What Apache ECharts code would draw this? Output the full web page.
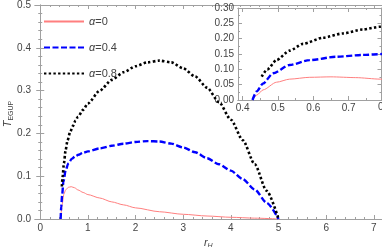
<!DOCTYPE html>
<html><head><meta charset="utf-8">
<script src="https://cdn.jsdelivr.net/npm/echarts@6/dist/echarts.min.js"></script>
<style>html,body{margin:0;padding:0;background:#fff}#c{width:382px;height:247px}</style>
</head><body><div id="c"></div>
<script>
// ---- data ----
var names = ['α=0', 'α=0.4', 'α=0.8'];
var alpha0 = [[0.428,0],[0.44,0.016],[0.458,0.033],[0.496,0.058],[0.533,0.068],[0.59,0.074],[0.65,0.0755],[0.72,0.073],[0.79,0.068],[0.9,0.062],[1.0,0.057],[1.25,0.049],[1.5,0.04],[1.75,0.033],[2.0,0.026],[2.5,0.017],[3.0,0.011],[3.5,0.007],[4.0,0.004],[4.5,0.002],[5.0,0]];
var alpha04 = [[0.428,0],[0.44,0.028],[0.458,0.054],[0.486,0.087],[0.533,0.114],[0.59,0.13],[0.665,0.141],[0.74,0.147],[0.8,0.15],[0.9,0.155],[1.0,0.158],[1.25,0.165],[1.5,0.171],[1.75,0.176],[2.0,0.18],[2.25,0.182],[2.5,0.181],[2.75,0.176],[3.0,0.167],[3.25,0.156],[3.5,0.142],[3.75,0.128],[4.0,0.113],[4.25,0.093],[4.5,0.069],[4.75,0.038],[5.0,0]];
var alpha08 = [[0.454,0.076],[0.47,0.1],[0.496,0.13],[0.533,0.161],[0.571,0.183],[0.627,0.203],[0.684,0.217],[0.74,0.23],[0.79,0.239],[0.9,0.255],[1.0,0.27],[1.25,0.3],[1.5,0.325],[1.75,0.343],[2.0,0.357],[2.25,0.366],[2.5,0.37],[2.75,0.366],[3.0,0.352],[3.25,0.333],[3.5,0.307],[3.75,0.273],[4.0,0.232],[4.25,0.184],[4.5,0.128],[4.75,0.066],[5.0,0]];
var xMajor = [0,1,2,3,4,5,6,7];
var xMinor = [];
for (var i = 1; i < 36; i++) { if (i % 5 !== 0) xMinor.push(+(i*0.2).toFixed(2)); }
var insetXMajor = [0.4,0.5,0.6,0.7];
var insetXMinor = [0.45,0.55,0.65,0.75];

// ---- styles ----
var frame = '#a0a0a0', txt = '#444';
var font = 'Liberation Sans, Arial, sans-serif';
var lbl = {color: txt, fontSize: 10, fontFamily: font};

function xAx(gi, pos, mn, mx, ticks, len, labels, extra) {
  var a = {type:'value', gridIndex: gi, position: pos, min: mn, max: mx,
    axisLine: {show: true, lineStyle: {color: frame, width: 1}},
    splitLine: {show: false},
    axisTick: {show: true, inside: true, length: len, customValues: ticks, lineStyle: {color: frame}},
    axisLabel: labels ? Object.assign({show: true, customValues: ticks, margin: 4}, lbl, labels) : {show: false}
  };
  return Object.assign(a, extra || {});
}
function yAx(gi, pos, mn, mx, iv, split, labels, extra) {
  var a = {type:'value', gridIndex: gi, position: pos, min: mn, max: mx, interval: iv,
    axisLine: {show: true, lineStyle: {color: frame, width: 1}},
    splitLine: {show: false},
    axisTick: {show: true, inside: true, length: 4, lineStyle: {color: frame}},
    minorTick: {show: true, splitNumber: split, length: 2, lineStyle: {color: frame}},
    axisLabel: labels ? Object.assign({show: true, margin: 4}, lbl, labels) : {show: false}
  };
  return Object.assign(a, extra || {});
}

var redStyle = {color: '#ff7f7f', width: 1};
var blueStyle = {color: '#0000ff', width: 2.4, type: [6, 2.5]};
var blackStyle = {color: '#000000', width: 2.6, type: [2.4, 2.3]};
function ser(name, data, st, xi, yi) {
  return {type: 'line', name: name, data: data, xAxisIndex: xi, yAxisIndex: yi,
    showSymbol: false, symbol: 'none', smooth: 0.25, smoothMonotone: 'x',
    lineStyle: st, itemStyle: {color: st.color}, clip: true, animation: false};
}
var nameRich = {
  i: {fontStyle: 'italic', fontSize: 11, fill: txt, color: txt, fontFamily: font},
  s: {fontSize: 7, fill: txt, color: txt, fontFamily: font, verticalAlign: 'bottom', padding: [6,0,0,0]}
};

var option = {
  animation: false,
  grid: [
    {left: 35, top: 5, right: 0.5, bottom: 28, outerBoundsMode: 'none', containLabel: false},
    {left: 238, top: 8, right: 0.5, bottom: 147, outerBoundsMode: 'none', containLabel: false}
  ],
  legend: {
    data: names, orient: 'vertical', left: 38, top: 11, itemWidth: 40, itemHeight: 4, itemGap: 15,
    itemStyle: {opacity: 0},
    textStyle: {color: txt, fontSize: 11, fontFamily: font,
      rich: {i: {fontStyle: 'italic', fontSize: 11, color: txt, fontFamily: font}, n: {fontSize: 11, color: txt, fontFamily: font}}},
    formatter: function (n) { return '{i|α}{n|' + n.slice(1) + '}'; }
  },
  xAxis: [
    xAx(0, 'bottom', -0.11, 7.16, xMajor, 4, {formatter: function(v){return String(v);}},
      {name: '{i|r}{s|H}', nameLocation: 'middle', nameGap: 17,
       nameTextStyle: {rich: {i: {fontStyle: 'italic', fontSize: 11, color: txt, fontFamily: font}, s: {fontStyle: 'italic', fontSize: 7, color: txt, fontFamily: font, verticalAlign: 'bottom', padding: [6,0,0,0]}}}}),
    xAx(0, 'bottom', -0.11, 7.16, xMinor, 2, null),
    xAx(0, 'top', -0.11, 7.16, xMajor, 4, null),
    xAx(0, 'top', -0.11, 7.16, xMinor, 2, null),
    xAx(1, 'bottom', 0.387, 0.793, insetXMajor, 4, {formatter: function(v){return v.toFixed(1);}, margin: 3}),
    xAx(1, 'bottom', 0.387, 0.793, insetXMinor, 2, null),
    xAx(1, 'top', 0.387, 0.793, insetXMajor, 4, null),
    xAx(1, 'top', 0.387, 0.793, insetXMinor, 2, null)
  ],
  yAxis: [
    yAx(0, 'left', 0, 0.5, 0.1, 5, {formatter: function(v){return v.toFixed(1);}}),
    yAx(0, 'right', 0, 0.5, 0.1, 5, null),
    yAx(1, 'left', 0, 0.3, 0.05, 2, {formatter: function(v){return v.toFixed(2);}}),
    yAx(1, 'right', 0, 0.3, 0.05, 2, null)
  ],
  graphic: [
    {type: 'text', left: 378, top: 102, style: {text: '0.8', fill: txt, font: '10px Liberation Sans, Arial, sans-serif'}},
    {type: 'text', x: 8, y: 114, rotation: Math.PI / 2,
     style: {text: '{i|T}{s|EGUP}', rich: nameRich, align: 'center', verticalAlign: 'middle', fill: txt}}
  ],
  series: [
    ser(names[0], alpha0, redStyle, 0, 0),
    ser(names[1], alpha04, blueStyle, 0, 0),
    ser(names[2], alpha08, blackStyle, 0, 0),
    ser(names[0], alpha0, redStyle, 4, 2),
    ser(names[1], alpha04, blueStyle, 4, 2),
    ser(names[2], alpha08, blackStyle, 4, 2)
  ]
};
var chart = echarts.init(document.getElementById('c'), null, {renderer: 'canvas'});
chart.setOption(option);
</script></body></html>
